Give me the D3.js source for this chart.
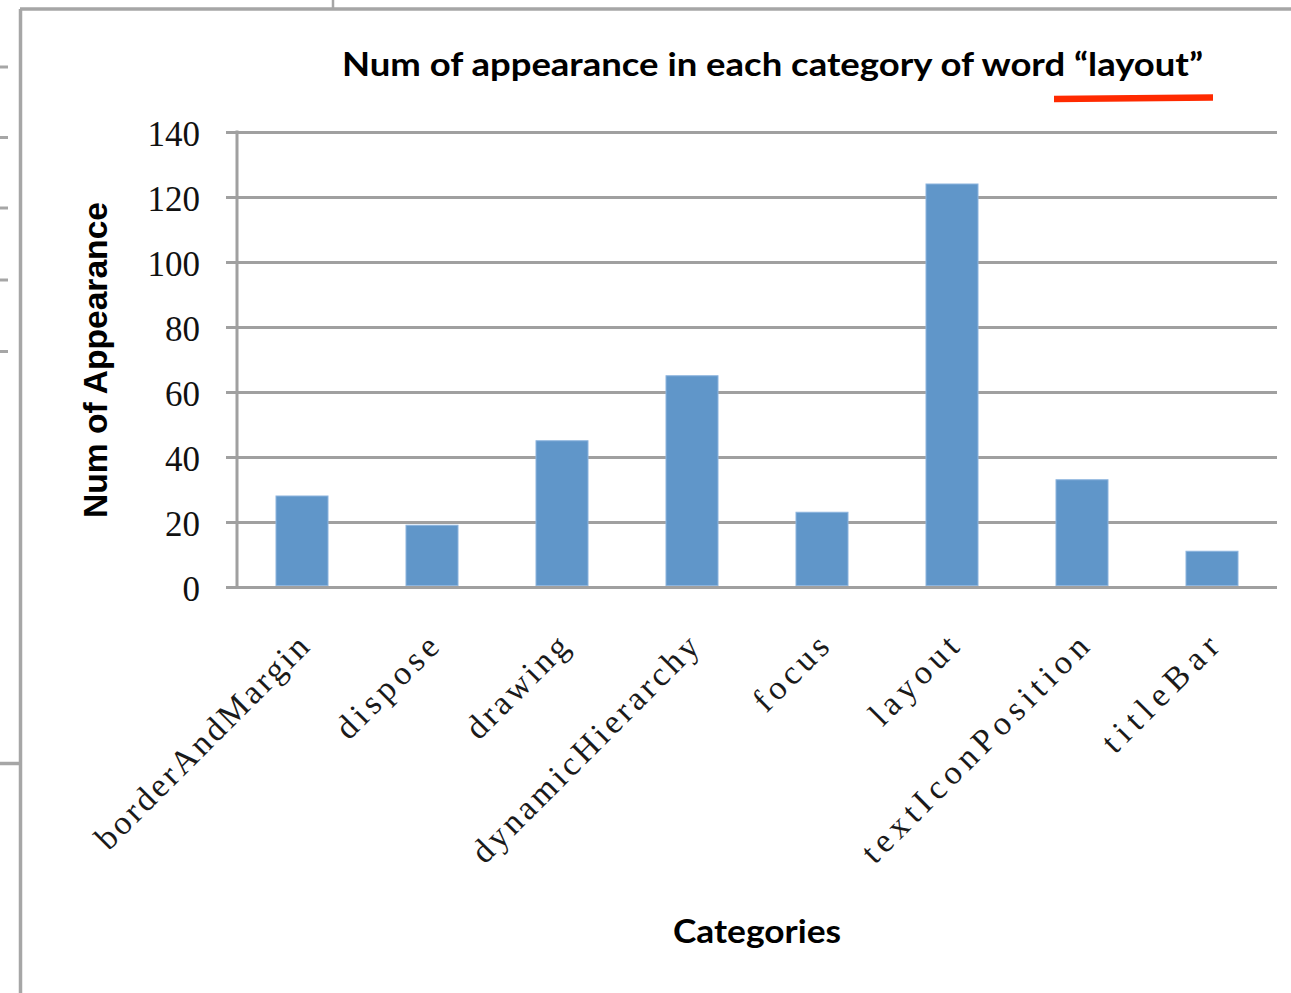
<!DOCTYPE html>
<html>
<head>
<meta charset="utf-8">
<script src="https://cdn.jsdelivr.net/npm/d3@7"></script>
<style>
  html, body { margin: 0; padding: 0; background: #ffffff; }
  svg { display: block; }
</style>
</head>
<body>
<svg id="chart" width="1291" height="993"></svg>
<script>
// Word counts of "layout" per category
const categories = ["borderAndMargin", "dispose", "drawing", "dynamicHierarchy",
                    "focus", "layout", "textIconPosition", "titleBar"];
const counts = [28, 19, 45, 65, 23, 124, 33, 11];
const yTicks = [0, 20, 40, 60, 80, 100, 120, 140];

const titleText = "Num of appearance in each category of word \u201Clayout\u201D";
const yTitle = "Num of Appearance";
const xTitle = "Categories";

const W = 1291, H = 993;
const plot = { left: 237, right: 1277, top: 132, bottom: 587 };
const gridColor = "#a0a0a0";
const barColor = "#6096c9";

const svg = d3.select("#chart");

// surrounding frame of the page the chart sits in
const frame = svg.append("g").attr("stroke", "#a6a6a6").attr("fill", "none");
frame.append("line").attr("x1", 20).attr("x2", W).attr("y1", 9).attr("y2", 9).attr("stroke-width", 3.5);
frame.append("line").attr("x1", 20.5).attr("x2", 20.5).attr("y1", 9).attr("y2", H).attr("stroke-width", 3.5);
frame.append("line").attr("x1", 333).attr("x2", 333).attr("y1", 0).attr("y2", 9).attr("stroke-width", 2.5);
[67, 137.5, 208, 280, 351.5].forEach(yy => {
  frame.append("line").attr("x1", 0).attr("x2", 8).attr("y1", yy).attr("y2", yy).attr("stroke-width", 3);
});
frame.append("line").attr("x1", 0).attr("x2", 20).attr("y1", 763.5).attr("y2", 763.5).attr("stroke-width", 3.5);

// scales
const x = d3.scaleBand()
  .domain(categories)
  .range([plot.left, plot.right])
  .paddingInner(0.6)
  .paddingOuter(0.3);

const y = d3.scaleLinear()
  .domain([0, 140])
  .range([plot.bottom, plot.top]);

// y axis with horizontal gridlines
const yAxis = svg.append("g")
  .attr("transform", `translate(${plot.left},0)`)
  .call(d3.axisLeft(y)
    .tickValues(yTicks)
    .tickSizeInner(-(plot.right - plot.left))
    .tickSizeOuter(0)
    .tickPadding(0));

yAxis.select(".domain").remove();
yAxis.selectAll(".tick line")
  .attr("x1", -11)
  .attr("stroke", gridColor)
  .attr("stroke-width", 3);
yAxis.selectAll(".tick text")
  .attr("x", -37)
  .attr("dy", "0.38em")
  .attr("fill", "#111")
  .style("font-family", "'Liberation Serif', 'Times New Roman', serif")
  .style("font-size", "35px");

// vertical axis line
svg.append("line")
  .attr("x1", plot.left).attr("x2", plot.left)
  .attr("y1", plot.top - 1.5).attr("y2", plot.bottom + 1.5)
  .attr("stroke", gridColor)
  .attr("stroke-width", 3);

// bars
svg.append("g")
  .selectAll("rect")
  .data(categories.map((c, i) => ({ c, v: counts[i] })))
  .join("rect")
  .attr("x", d => x(d.c))
  .attr("y", d => y(d.v))
  .attr("width", x.bandwidth())
  .attr("height", d => y(0) - y(d.v) - 1.5)
  .attr("fill", barColor)
  .attr("stroke", "#8cb4de")
  .attr("stroke-width", 1);

// category labels, rotated; letters spread to a half-width pitch
const cell = 19.5;
const xAxis = svg.append("g")
  .attr("transform", `translate(0,${plot.bottom})`)
  .call(d3.axisBottom(x).tickSize(0).tickPadding(0));
xAxis.select(".domain").remove();
xAxis.selectAll(".tick text")
  .attr("text-anchor", "end")
  .attr("textLength", d => d.length * cell - 6)
  .attr("lengthAdjust", "spacing")
  .attr("fill", "#1a1a1a")
  .attr("transform", "translate(9,62) rotate(-45)")
  .attr("y", 0)
  .attr("dy", 0)
  .style("font-family", "'Liberation Serif', 'Times New Roman', serif")
  .style("font-size", "34px");

// title
svg.append("text")
  .attr("x", 772.5)
  .attr("y", 76)
  .attr("text-anchor", "middle")
  .attr("textLength", 861)
  .attr("lengthAdjust", "spacingAndGlyphs")
  .style("font-family", "Lato, 'Open Sans', sans-serif")
  .style("font-weight", "bold")
  .style("font-size", "33px")
  .attr("fill", "#000")
  .text(titleText);

// red underline beneath the quoted word
svg.append("line")
  .attr("x1", 1054).attr("y1", 99)
  .attr("x2", 1213).attr("y2", 97.5)
  .attr("stroke", "#ff2a00")
  .attr("stroke-width", 6.5);

// y axis title
svg.append("text")
  .attr("transform", "translate(107,360) rotate(-90)")
  .attr("text-anchor", "middle")
  .attr("textLength", 316)
  .attr("lengthAdjust", "spacingAndGlyphs")
  .style("font-family", "'Liberation Sans', Arial, sans-serif")
  .style("font-weight", "bold")
  .style("font-size", "33px")
  .attr("fill", "#000")
  .text(yTitle);

// x axis title
svg.append("text")
  .attr("x", 757)
  .attr("y", 943)
  .attr("text-anchor", "middle")
  .attr("textLength", 168)
  .attr("lengthAdjust", "spacingAndGlyphs")
  .style("font-family", "Lato, 'Open Sans', sans-serif")
  .style("font-weight", "bold")
  .style("font-size", "33px")
  .attr("fill", "#000")
  .text(xTitle);
</script>
</body>
</html>
